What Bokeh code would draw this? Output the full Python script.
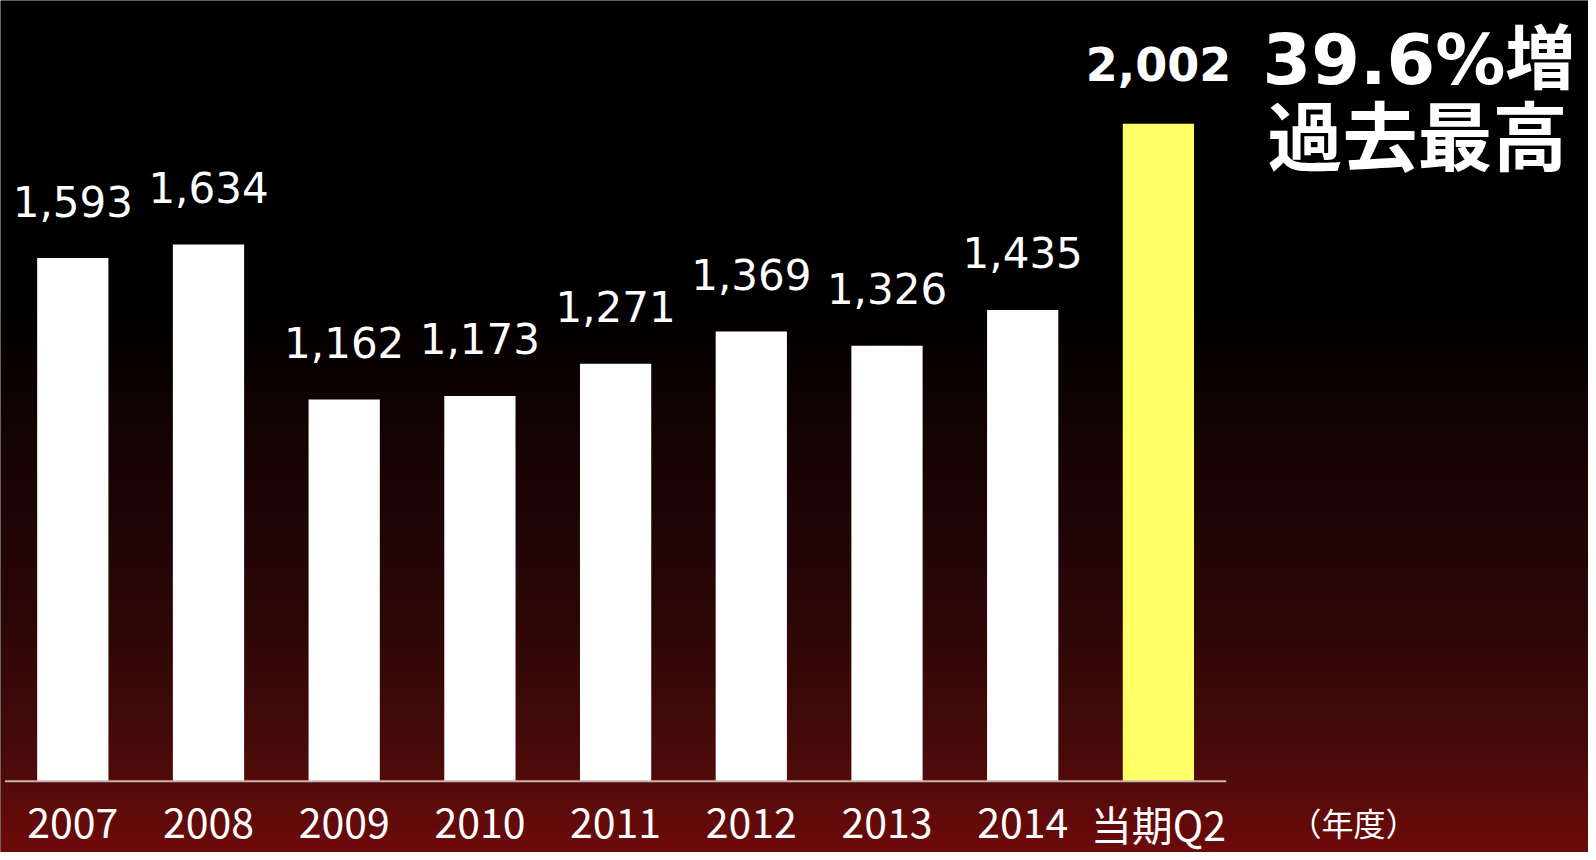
import numpy as np
from bokeh.plotting import figure
from bokeh.models import Range1d, ColumnDataSource, Label
from bokeh.core.properties import value
from bokeh.embed import file_html
from bokeh.resources import INLINE

# ---- data ----
categories = ["2007", "2008", "2009", "2010", "2011", "2012", "2013", "2014", "当期Q2"]
sales = [1593, 1634, 1162, 1173, 1271, 1369, 1326, 1435, 2002]
value_labels = ["1,593", "1,634", "1,162", "1,173", "1,271", "1,369", "1,326", "1,435", "2,002"]
bar_colors = ["#ffffff"] * 8 + ["#ffff66"]
headline = "39.6%増"
subline = "過去最高"
unit_label = "（年度）"

# ---- layout (pixels) ----
W, H = 1588, 852
px_per_cat = 135.7
first_center = 72.3
baseline_px = 780.7          # from top of figure
px_per_unit = 0.3284

x_start = -first_center / px_per_cat
x_end = x_start + W / px_per_cat
y_end = baseline_px / px_per_unit
y_start = -(H - baseline_px) / px_per_unit

p = figure(width=W, height=H, x_range=Range1d(x_start, x_end), y_range=Range1d(y_start, y_end),
           output_backend="svg", toolbar_location=None, min_border=0,
           x_axis_type=None, y_axis_type=None)
p.outline_line_color = None
p.background_fill_color = "#000000"
p.border_fill_color = "#000000"

# ---- background gradient (black -> dark red), pixel stops from top ----
stop_y = [0, 300, 390, 510, 630, 750, 860]
stop_r = [0, 0, 14, 30, 46, 72, 114]
stop_g = [0, 0, 2, 5, 7, 11, 10]
stop_b = [0, 0, 2, 5, 7, 11, 10]
rows = np.arange(H)
pix_y = (H - 1 - rows) + 0.5
img = np.empty((H, 4), dtype=np.uint32)
view = img.view(dtype=np.uint8).reshape((H, 4, 4))
view[:, :, 0] = np.interp(pix_y, stop_y, stop_r)[:, None].astype(np.uint8)
view[:, :, 1] = np.interp(pix_y, stop_y, stop_g)[:, None].astype(np.uint8)
view[:, :, 2] = np.interp(pix_y, stop_y, stop_b)[:, None].astype(np.uint8)
view[:, :, 3] = 255
p.image_rgba(image=[img], x=x_start, y=y_start, dw=x_end - x_start, dh=y_end - y_start)

# ---- bars ----
idx = list(range(len(categories)))
src = ColumnDataSource(dict(x=idx, top=sales, color=bar_colors, label=value_labels, cat=categories,
                            zero=[0] * len(categories)))
p.vbar(x="x", top="top", bottom=0, width=0.525, fill_color="color", line_color=None, source=src)

# baseline
p.segment(x0=[-0.5], y0=[0], x1=[len(categories) - 0.5], y1=[0], line_color="#c8b4b4", line_width=2)

# value labels
src_reg = ColumnDataSource(dict(x=idx[:-1], y=sales[:-1], label=value_labels[:-1]))
src_last = ColumnDataSource(dict(x=idx[-1:], y=sales[-1:], label=value_labels[-1:]))
p.text(x="x", y="y", text="label", source=src_reg, text_font=value("DejaVu Sans"),
       text_font_size="42px", text_color="#ffffff", text_align="center",
       text_baseline="alphabetic", y_offset=-57)
p.text(x="x", y="y", text="label", source=src_last, text_font=value("DejaVu Sans"),
       text_font_size="46px", text_font_style="bold", text_color="#ffffff", text_align="center",
       text_baseline="alphabetic", y_offset=-60)

# category labels (axis)
p.text(x="x", y="zero", text="cat", source=src, text_font=value("Noto Sans CJK JP"),
       text_font_size="41px", text_color="#ffffff", text_align="center",
       text_baseline="alphabetic", y_offset=42)

# unit label
p.add_layout(Label(x=1353, y=H - 821, x_units="screen", y_units="screen", text=unit_label,
                   text_font="Noto Sans CJK JP", text_font_size="32px", text_color="#ffffff",
                   text_align="center", text_baseline="alphabetic"))

# headline texts
p.add_layout(Label(x=1262, y=H - 59, x_units="screen", y_units="screen", text=headline,
                   text_font="DejaVu Sans, Noto Sans CJK JP", text_font_size="70px",
                   text_font_style="bold", text_color="#ffffff", text_align="left",
                   text_baseline="alphabetic"))
p.add_layout(Label(x=1267, y=H - 132, x_units="screen", y_units="screen", text=subline,
                   text_font="Noto Sans CJK JP", text_font_size="75px", text_font_style="bold",
                   text_color="#ffffff", text_align="left", text_baseline="alphabetic"))

open("out.html", "w").write(file_html(p, INLINE))
